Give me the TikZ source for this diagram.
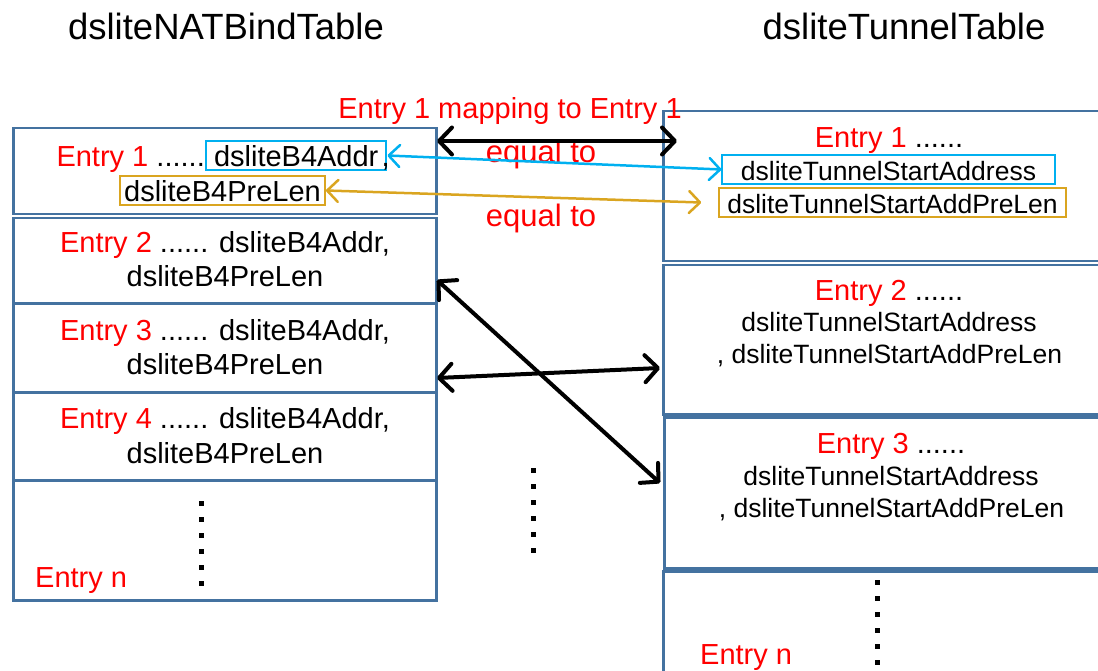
\documentclass[tikz,border=0pt]{standalone}
\usepackage{fontspec}
\setmainfont{Liberation Sans}
\usepackage{tikz}
\usetikzlibrary{arrows.meta,positioning}
\usepackage{xcolor}
\definecolor{tab-blue}{RGB}{68,114,160}
\definecolor{entry-red}{RGB}{255,0,0}
\definecolor{hl-cyan}{RGB}{0,176,240}
\definecolor{hl-gold}{RGB}{218,165,32}

\begin{document}
\begin{tikzpicture}[x=1pt, y=-1pt,
    row/.style={rectangle, draw=tab-blue, line width=2.5pt, anchor=north west, inner sep=0pt},
    title/.style={font=\fontsize{36.5}{40}\selectfont, inner sep=0pt, anchor=base},
    big/.style={font=\fontsize{29}{33}\selectfont, inner sep=0pt, anchor=base},
    small/.style={font=\fontsize{26.5}{30}\selectfont, inner sep=0pt, anchor=base},
    note/.style={font=\fontsize{31}{35}\selectfont, text=entry-red, inner sep=0pt, anchor=base},
    hl/.style={draw, line width=2pt, inner ysep=3pt, text height=23pt, text depth=0pt},
    link/.style={<->, line width=4pt, >={Straight Barb[round, length=13pt, width=27pt]}},
    thinlink/.style={<->, line width=2.5pt, >={Straight Barb[round, length=11pt, width=22pt]}},
    dotsq/.style={fill=black, minimum size=5pt, inner sep=0pt}]

    \clip (0,0) rectangle (1098,671);
    \useasboundingbox (0,0) rectangle (1098,671);

    % Titles
    \node[title] (ttl-nat) at (226,40) {dsliteNATBindTable};
    \node[title] (ttl-tun) at (904,40) {dsliteTunnelTable};

    % Left table: dsliteNATBindTable
    \node[row, minimum width=423pt, minimum height=86pt] (l1) at (12,127) {};
    \node[row, minimum width=423pt, minimum height=85pt] (l2) at (12,217) {};
    \node[row, minimum width=423pt, minimum height=89pt] (l3) at (12,302) {};
    \node[row, minimum width=423pt, minimum height=88pt] (l4) at (12,391) {};
    \node[row, minimum width=423pt, minimum height=120pt] (l5) at (12,479) {};

    % Right table: dsliteTunnelTable
    \node[row, minimum width=470pt, minimum height=150pt] (r1) at (662,110) {};
    \node[row, minimum width=470pt, minimum height=149pt] (r2) at (662,264) {};
    \node[row, minimum width=470pt, minimum height=151pt] (r3) at (663,416) {};
    \node[row, minimum width=470pt, minimum height=140pt] (r4) at (662,570) {};

    % Left entries
    \node[big, anchor=base east] (l1a) at (205,167) {\textcolor{entry-red}{Entry 1} ......};
    \node[big, hl, draw=hl-cyan, inner xsep=8pt, anchor=base west] (b4addr) at (l1a.base east) {dsliteB4Addr};
    \node[big, anchor=base west] (l1c) at ([xshift=-6pt]b4addr.base east) {,};
    \node[big, hl, draw=hl-gold, inner xsep=4pt] (b4pre) at (222.5,202) {dsliteB4PreLen};

    \node[big] (l2a) at (225,252.5) {\textcolor{entry-red}{Entry 2} ...... dsliteB4Addr,};
    \node[big] (l2b) at (225,286.5) {dsliteB4PreLen};
    \node[big] (l3a) at (225,340.5) {\textcolor{entry-red}{Entry 3} ...... dsliteB4Addr,};
    \node[big] (l3b) at (225,374.5) {dsliteB4PreLen};
    \node[big] (l4a) at (225,428.5) {\textcolor{entry-red}{Entry 4} ...... dsliteB4Addr,};
    \node[big] (l4b) at (225,463) {dsliteB4PreLen};
    \node[big, anchor=base west, text=entry-red] (l5a) at (35,587) {Entry n};

    % Right entries
    \node[big] (r1a) at (889,148) {\textcolor{entry-red}{Entry 1} ......};
    \node[small, hl, draw=hl-cyan, inner xsep=18.5pt] (tsa) at (888.5,181) {dsliteTunnelStartAddress};
    \node[small, anchor=base east] (r1c) at (725,214) {,};
    \node[small, hl, draw=hl-gold, fill=white, inner xsep=8pt] (tsapl) at (892.5,214) {dsliteTunnelStartAddPreLen};

    \node[big] (r2a) at (889,300) {\textcolor{entry-red}{Entry 2} ......};
    \node[small] (r2b) at (889,331.5) {dsliteTunnelStartAddress};
    \node[small] (r2c) at (889.5,363.5) {, dsliteTunnelStartAddPreLen};
    \node[big] (r3a) at (891,453) {\textcolor{entry-red}{Entry 3} ......};
    \node[small] (r3b) at (891,485.5) {dsliteTunnelStartAddress};
    \node[small] (r3c) at (891.5,517) {, dsliteTunnelStartAddPreLen};
    \node[big, anchor=base west, text=entry-red] (r4a) at (700,664) {Entry n};

    % Labels
    \node[note, font=\fontsize{29}{33}\selectfont] (map) at (510,119) {Entry 1 mapping to Entry 1};
    \node[note] (eq1) at (541,163) {equal to};
    \node[note] (eq2) at (541,227) {equal to};

    % Dots
    \foreach \k in {0,...,5} {
        \node[dotsq] (ldot\k) at (201,503+16*\k) {};
        \node[dotsq] (mdot\k) at (533,470+16*\k) {};
        \node[dotsq] (rdot\k) at (877,582+16*\k) {};
    }

    % Arrow ends
    \coordinate (m1l) at (437,141);
    \coordinate (m1r) at (677,141);
    \coordinate (m2l) at (437,280);
    \coordinate (m2r) at (660,483);
    \coordinate (m3l) at (437,378);
    \coordinate (m3r) at (660,368);

    % Arrows
    \draw[link] (m1l) -- (m1r);
    \draw[thinlink, hl-cyan] (b4addr.east) -- (tsa.west);
    \draw[thinlink, hl-gold] (b4pre.east) -- ([xshift=-17pt]tsapl.west);
    \draw[link] (m2l) -- (m2r);
    \draw[link] (m3l) -- (m3r);
\end{tikzpicture}
\end{document}
